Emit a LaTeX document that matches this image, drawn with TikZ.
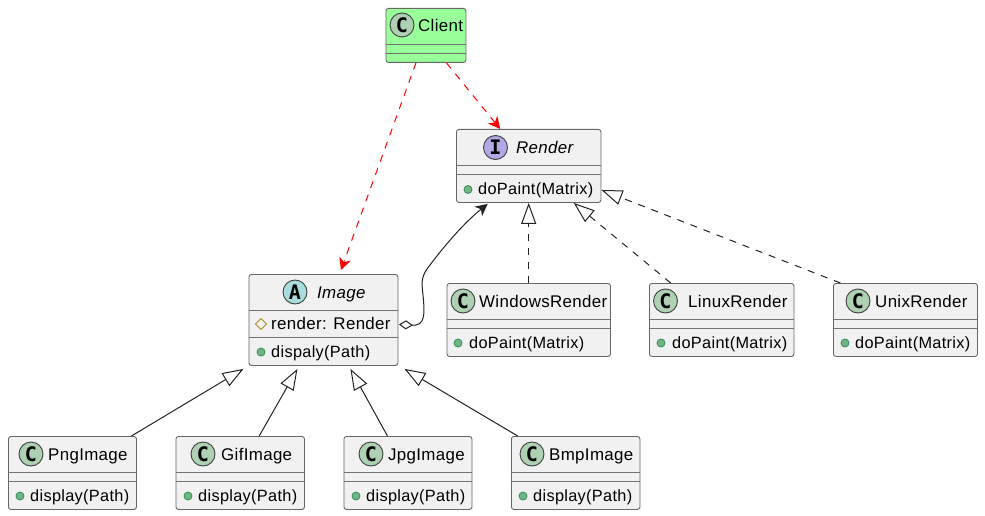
\documentclass[tikz,border=0pt]{standalone}
\usepackage{fontspec}
\setmainfont{Liberation Sans}[LetterSpace=2]
\newfontfamily\glyphfont{DejaVu Sans Mono}[FontFace={bf}{n}{Font=* Bold}]
\usetikzlibrary{arrows.meta, shapes.geometric}
\definecolor{boxfill}{HTML}{F1F1F1}
\definecolor{clientfill}{HTML}{99FF99}
\definecolor{classspot}{HTML}{ADD1B2}
\definecolor{abstractspot}{HTML}{A9DCDF}
\definecolor{interfacespot}{HTML}{B4A7E5}
\definecolor{linecol}{HTML}{222222}
\definecolor{dotfill}{HTML}{72B583}
\definecolor{dotline}{HTML}{2F8A5A}
\definecolor{markline}{HTML}{B38D22}
\tikzset{
    classbox/.style={draw=black!60, line width=0.9pt, rounded corners=2.5pt, fill=boxfill, anchor=north west, inner sep=0pt},
    sepline/.style={draw=black!55, line width=0.9pt},
    spot/.style={circle, draw=black!75, line width=0.9pt, minimum size=24pt, inner sep=0pt, font=\glyphfont\fontsize{20}{20}\selectfont\bfseries},
    title/.style={anchor=base west, inner sep=0pt, font=\fontsize{16.9}{18}\selectfont},
    member/.style={anchor=base west, inner sep=0pt, font=\fontsize{16.3}{18}\selectfont},
    pubdot/.style={circle, draw=dotline, fill=dotfill, line width=0.8pt, minimum size=8pt, inner sep=0pt},
    protmark/.style={diamond, draw=markline, line width=0.9pt, minimum size=11.5pt, inner sep=0pt},
    extends/.style={draw=linecol, line width=1pt, -{Triangle[open, length=21pt, width=15pt, line width=1pt]}},
    realizes/.style={extends, dash pattern=on 7pt off 7pt},
    uses/.style={draw=red, line width=1pt, dash pattern=on 7pt off 7pt, -{Stealth[red, length=12pt, width=12pt, inset=3.5pt]}}
}

\begin{document}
\begin{tikzpicture}[x=1pt,y=-1pt]
    \useasboundingbox (0,0) rectangle (985,516);
    % client
    \node[classbox, fill=clientfill, minimum width=80pt, minimum height=54pt] (client) at (385.5,8) {};
    \draw[sepline] (385.5,44)--(465.5,44);
    \draw[sepline] (385.5,53)--(465.5,53);
    \node[spot, fill=classspot] (clientspot) at (402,25) {C};
    \node[title] (clienttitle) at (418,31.5) {Client};
    % interface
    \node[classbox, minimum width=144.5pt, minimum height=73pt] (render) at (456,129) {};
    \draw[sepline] (456,165)--(600.5,165);
    \draw[sepline] (456,174)--(600.5,174);
    \node[spot, fill=interfacespot] (renderspot) at (495.5,147.5) {I};
    \node[title] (rendertitle) at (516,153.5) {\itshape Render};
    \node[pubdot] (renderdot) at (468,189.5) {};
    \node[member] (rendermethod) at (478,194.5) {doPaint(Matrix)};
    % abstract class
    \node[classbox, minimum width=149pt, minimum height=91pt] (image) at (248.5,274) {};
    \draw[sepline] (248.5,310)--(397.5,310);
    \draw[sepline] (248.5,337)--(397.5,337);
    \node[spot, fill=abstractspot] (imagespot) at (295,292) {A};
    \node[title] (imagetitle) at (317,298) {\itshape Image};
    \node[protmark] (imagemark) at (261,324) {};
    \node[title] (imagefield) at (271,329.5) {render: Render};
    \node[pubdot] (imagedot) at (261,352) {};
    \node[member] (imagemethod) at (271,357) {dispaly(Path)};
    % concrete classes
    \foreach \nm/\xa/\xb/\ya/\sx/\tx/\dx/\mx/\name/\method in {
        windows/446.5/610/283/463/479/458/469/WindowsRender/doPaint(Matrix),
        linux/649/793.5/283/665.5/688/661/672/LinuxRender/doPaint(Matrix),
        unix/833/977/283/858/875/845/855/UnixRender/doPaint(Matrix),
        png/8/136/436/31/48/20/30/PngImage/display(Path),
        gif/175.5/304/436/203/221/188/198/GifImage/display(Path),
        jpg/343.5/471.5/436/371/388/356/366/JpgImage/display(Path),
        bmp/511/639.5/436/532/549/523/533/BmpImage/display(Path)}{
        \node[classbox, minimum width={(\xb-\xa)*1pt}, minimum height=73pt] (\nm) at (\xa,\ya) {};
        \draw[sepline] (\xa,\ya+36)--(\xb,\ya+36);
        \draw[sepline] (\xa,\ya+45)--(\xb,\ya+45);
        \node[spot, fill=classspot] (\nm spot) at (\sx,\ya+18) {C};
        \node[title] (\nm title) at (\tx,\ya+24) {\name};
        \node[pubdot] (\nm dot) at (\dx,\ya+60) {};
        \node[member] (\nm method) at (\mx,\ya+65) {\method};
    }
    % connectors
    \draw[uses] ([xshift=-10pt]client.south)--([shift={(17.5,-4)}]image.north);
    \draw[uses] ([xshift=20.5pt]client.south)--([xshift=-28.5pt]render.north);
    \draw[realizes] (windows.north)--(render.south);
    \draw[realizes] ([xshift=-51pt]linux.north)--([xshift=45pt]render.south);
    \draw[realizes] ([xshift=-65pt]unix.north)--([shift={(0,24)}]render.east);
    \draw[extends] ([xshift=59pt]png.north)--([shift={(-80,3)}]image.south);
    \draw[extends] ([xshift=19pt]gif.north)--([shift={(-26,3)}]image.south);
    \draw[extends] ([xshift=-20.5pt]jpg.north)--([shift={(27,3)}]image.south);
    \draw[extends] ([xshift=-58pt]bmp.north)--([shift={(81,3)}]image.south);
    \draw[draw=linecol, line width=1pt, {Diamond[open, length=14pt, width=9pt, line width=1pt]}-{Stealth[linecol, length=12pt, width=12pt, inset=3.5pt]}]
        ([shift={(0.5,4.5)}]image.east) .. controls (425,326) and (425,315) .. (423,295)
        .. controls (421,280) and (422,275) .. (430,265)
        .. controls (445,245) and (465,222) .. ([shift={(-41,1)}]render.south);
\end{tikzpicture}
\end{document}
